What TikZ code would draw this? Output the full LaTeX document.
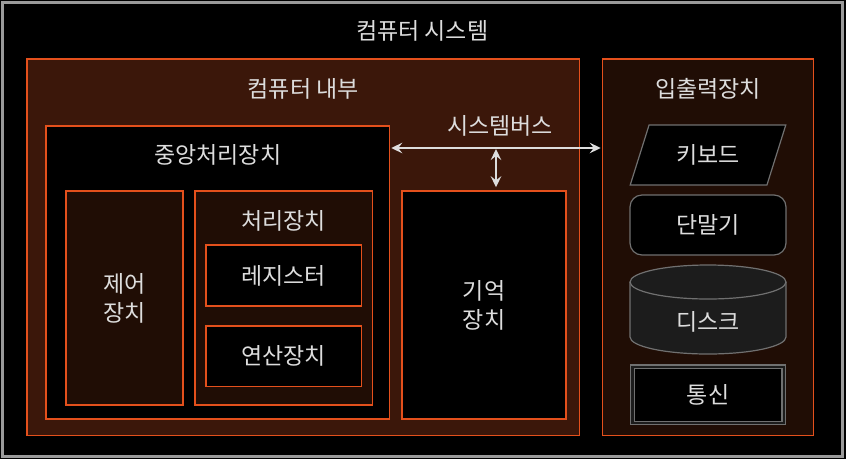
\documentclass[tikz,border=0pt]{standalone}
\usepackage{fontspec}
\setmainfont{Noto Sans CJK KR}
\usetikzlibrary{calc,arrows.meta,shapes.geometric}
\definecolor{orng}{HTML}{E4501C}
\definecolor{brn}{HTML}{3B170A}
\definecolor{dbrn}{HTML}{200D05}
\definecolor{txt}{HTML}{DDDDDD}
\definecolor{frame}{HTML}{9A9A9A}
\definecolor{devgray}{HTML}{707070}
\definecolor{diskgray}{HTML}{1C1C1C}

\begin{document}
\begin{tikzpicture}
[x=1pt, y=-1pt,
 box/.style={draw=orng, line width=1.5pt, inner sep=0pt, text=txt, align=center, font=\fontsize{23}{29}\selectfont},
 ttl/.style={text=txt, inner sep=0pt, font=\fontsize{23}{29}\selectfont},
 dev/.style={draw=devgray, line width=1.2pt, fill=black, inner sep=0pt, text=txt, font=\fontsize{23}{29}\selectfont, minimum width=156pt, minimum height=60pt},
 devline/.style={draw=devgray, line width=1.2pt},
 bus/.style={draw=txt, line width=2.8pt, <->, >={Stealth[length=11pt, width=10.5pt, inset=4pt]}}]
    \fill[black] (0,0) rectangle (846,459);
    \useasboundingbox (0,0) rectangle (846,459);
    % outer frame
    \node[draw=frame, line width=3pt, minimum width=839.5pt, minimum height=454pt] (S) at (422.25,229) {};
    \node[ttl] (St) at ($(S.north)+(0,30)$) {컴퓨터 시스템};
    % computer inside
    \node[box, fill=brn, minimum width=552.5pt, minimum height=376.5pt] (I) at (303.25,247.25) {};
    \node[ttl] (It) at ($(I.north)+(0,31)$) {컴퓨터 내부};
    \node[box, fill=black, minimum width=343.5pt, minimum height=293pt] (C) at (217.75,272.5) {};
    \node[ttl] (Ct) at ($(C.north)+(0,30)$) {중앙처리장치};
    \node[box, fill=dbrn, minimum width=117pt, minimum height=214pt] (CU) at (124.5,298) {제어\\장치};
    \node[box, fill=dbrn, minimum width=177.5pt, minimum height=214pt] (P) at (283.75,298) {};
    \node[ttl] (Pt) at ($(P.north)+(0,31)$) {처리장치};
    \node[box, fill=black, minimum width=155.5pt, minimum height=61pt] (R) at (283.75,275.5) {레지스터};
    \node[box, fill=black, minimum width=155.5pt, minimum height=60.5pt] (A) at (283.75,356.25) {연산장치};
    \node[box, fill=black, minimum width=164pt, minimum height=228pt] (M) at (484,305) {기억\\장치};
    % input / output
    \node[box, fill=dbrn, minimum width=211pt, minimum height=376.5pt] (IO) at (708,247.25) {};
    \node[ttl] (IOt) at ($(IO.north)+(0,31)$) {입출력장치};
    \node[dev, trapezium, trapezium left angle=64, trapezium right angle=116, trapezium stretches=true] (K) at (708,155) {키보드};
    \node[dev, rounded corners=12pt] (T) at (708,225) {단말기};
    \draw[devline, fill=diskgray] (630,282) -- (630,337)
        arc[start angle=180, end angle=360, x radius=78pt, y radius=17pt] -- (786,282)
        arc[start angle=0, end angle=180, x radius=78pt, y radius=17pt] -- cycle;
    \draw[devline] (630,282) arc[start angle=180, end angle=360, x radius=78pt, y radius=17pt];
    \node[ttl] (D) at (708,322) {디스크};
    \node[dev, double=diskgray, double distance=2.5pt, minimum width=151.5pt, minimum height=56.25pt] (TC) at (708,394.9) {통신};
    % system bus
    \coordinate (B) at (496,148);
    \draw[bus, shorten <=1pt, shorten >=1pt] (C.east |- B) -- (IO.west |- B);
    \draw[bus, shorten <=1pt, shorten >=3pt] (B) -- (B |- M.north);
    \node[ttl] (Bt) at ($(B)+(4,-22)$) {시스템버스};
\end{tikzpicture}
\end{document}
